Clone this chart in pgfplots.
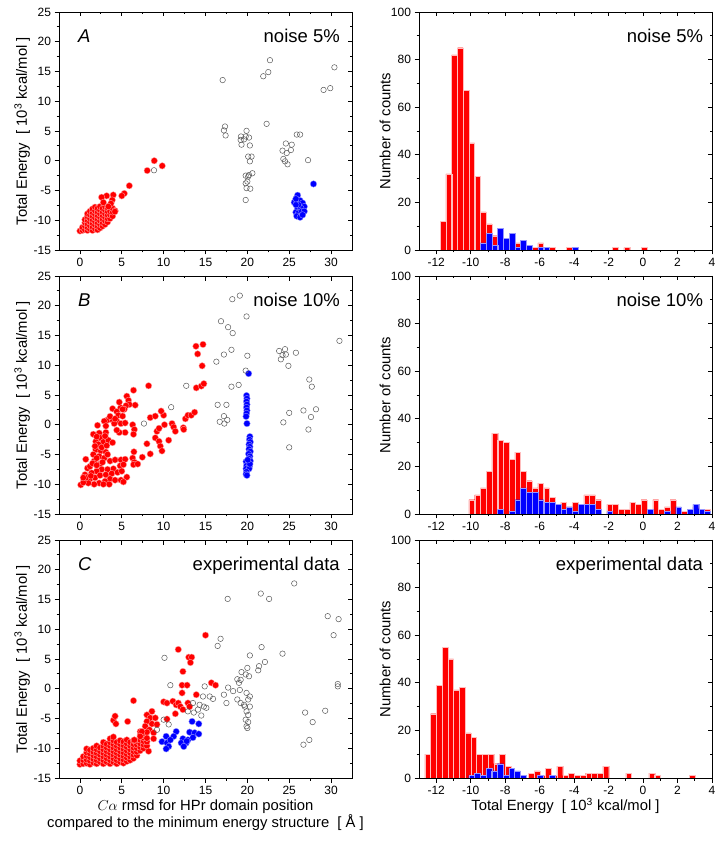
\documentclass[border=0pt]{standalone}
\usepackage{pgfplots}
\pgfplotsset{compat=1.18}
\usepackage{fontspec}
\setmainfont{Liberation Sans}
\definecolor{myred}{RGB}{255,0,0}
\definecolor{myblue}{RGB}{0,0,255}
\definecolor{rededge}{RGB}{255,165,165}
\definecolor{blueedge}{RGB}{150,150,255}
\definecolor{barredge}{RGB}{255,190,190}
\definecolor{opengray}{RGB}{90,90,90}
\pgfplotsset{
  base/.style={scale only axis, width=293pt, height=238pt,
    axis line style={line width=0.9pt},
    tick style={line width=0.8pt, black}, major tick length=4.5pt, minor tick length=2.5pt,
    /pgf/number format/assume math mode=true,
    tick label style={font=\fontsize{12}{14}\selectfont},
    label style={font=\fontsize{14.8}{16.7}\selectfont},
  },
  leftax/.style={base, xmin=-2.5, xmax=32.5, ymin=-15, ymax=25,
    xtick={0,5,...,30}, ytick={-15,-10,...,25}, minor x tick num=1, minor y tick num=1},
  rightax/.style={base, xmin=-13, xmax=4, ymin=0, ymax=100,
    xtick={-12,-10,...,4}, ytick={0,20,...,100}, minor x tick num=1, minor y tick num=1},
  mainax/.style={tick align=outside, xtick pos=bottom, ytick pos=left},
  overax/.style={tick align=inside, xtick pos=top, ytick pos=right, xticklabels={}, yticklabels={}},
  leftylab/.style={ylabel={Total Energy\ \ [ 10\textsuperscript{3} kcal/mol ]},
    ylabel style={at={(axis description cs:-0.126,0.5)}, anchor=center}},
  rightylab/.style={ylabel={Number of counts},
    ylabel style={at={(axis description cs:-0.116,0.5)}, anchor=center}},
  redpts/.style={only marks, mark=*, mark size=3.25pt, mark options={fill=myred, draw=rededge, line width=0.35pt}},
  bluepts/.style={only marks, mark=*, mark size=3.25pt, mark options={fill=myblue, draw=blueedge, line width=0.35pt}},
  openpts/.style={only marks, mark=o, mark size=2.75pt, mark options={draw=opengray, line width=0.5pt}},
  redbar/.style={ybar, bar width=0.333, bar shift=0pt, fill=myred, draw=barredge, line width=0.35pt},
  bluebar/.style={ybar, bar width=0.333, bar shift=0pt, fill=myblue, draw=blueedge, line width=0.35pt},
}
\newcommand{\ttl}[1]{\node[anchor=base east, inner sep=0pt, font=\fontsize{18.5}{20}\selectfont] at (rel axis cs:0.959,0.873) {#1};}
\newcommand{\ttr}[1]{\node[anchor=base east, inner sep=0pt, font=\fontsize{18.5}{20}\selectfont] at (rel axis cs:0.970,0.873) {#1};}
\newcommand{\plab}[1]{\node[anchor=base west, inner sep=0pt, font=\fontsize{18.5}{20}\selectfont\itshape] at (rel axis cs:0.065,0.873) {#1};}
\begin{document}
\begin{tikzpicture}
\useasboundingbox (0,0) rectangle (728pt,846pt);
%%%%%%%%%%%%%%%% Row 1 left
\begin{axis}[leftax, mainax, leftylab, at={(59pt,596pt)}, anchor=south west]
\addplot[redpts] coordinates {
(0.0,-11.8) (0.3,-11.7) (0.3,-11.2) (0.6,-11.6) (0.6,-11.0) (0.6,-10.4) (0.6,-9.9)
(0.9,-11.7) (0.9,-11.2) (0.9,-10.6) (0.9,-10.0) (0.9,-9.4) (0.9,-8.9)
(1.2,-11.5) (1.2,-10.9) (1.2,-10.3) (1.2,-9.7) (1.2,-9.1) (1.2,-8.5)
(1.5,-11.7) (1.5,-11.1) (1.5,-10.5) (1.5,-9.9) (1.5,-9.3) (1.5,-8.7) (1.5,-8.1)
(1.8,-11.4) (1.8,-10.8) (1.8,-10.2) (1.8,-9.6) (1.8,-9.0) (1.8,-8.4) (1.8,-7.8)
(2.1,-11.6) (2.1,-11.0) (2.1,-10.4) (2.1,-9.8) (2.1,-9.2) (2.1,-8.6) (2.1,-8.0)
(2.4,-11.3) (2.4,-10.7) (2.4,-10.1) (2.4,-9.5) (2.4,-8.9) (2.4,-8.3) (2.4,-7.7)
(2.7,-11.0) (2.7,-10.4) (2.7,-9.8) (2.7,-9.2) (2.7,-8.6) (2.7,-8.0)
(3.0,-10.7) (3.0,-10.1) (3.0,-9.5) (3.0,-8.9) (3.0,-8.3) (3.0,-7.7)
(3.3,-10.3) (3.3,-9.7) (3.3,-9.1) (3.3,-8.5) (3.3,-7.9)
(3.6,-9.7) (3.6,-9.1) (3.6,-8.5) (3.9,-9.3) (3.9,-8.6) (3.9,-8.0) (4.2,-8.4)
(8.88,0.0) (8.04,-1.65) (9.83,-0.86) (5.9,-4.2) (5.3,-5.5) (5.0,-5.9) (3.98,-5.75)
(3.19,-5.9) (2.59,-6.14) (3.86,-6.6) (2.8,-7.0) (3.7,-7.2) (4.18,-8.55) (3.4,-7.7)
};
\addplot[bluepts] coordinates {
(27.9,-3.9) (26.0,-5.8) (25.6,-7.0) (26.3,-6.7) (26.6,-7.1) (26.8,-7.7) (26.0,-8.0)
(26.4,-8.0) (25.8,-8.65) (26.1,-8.8) (26.5,-8.5) (26.8,-8.5) (25.9,-9.3) (26.3,-9.5)
(26.1,-7.4) (25.8,-7.4) (26.6,-9.1) (25.8,-6.4)
};
\addplot[openpts] coordinates {
(17.05,13.56) (17.33,5.76) (17.2,5.1) (17.4,4.25) (19.24,4.08) (19.2,3.5) (19.3,2.7)
(19.6,3.6) (19.9,5.03) (19.8,4.08) (20.2,3.9) (20.3,2.57) (20.1,0.7) (20.5,0.7)
(20.3,-0.1) (20.2,-2.4) (20.6,-2.1) (19.8,-2.5) (20.0,-3.5) (19.8,-3.8) (19.9,-4.6)
(20.35,-4.7) (20.1,-2.65) (19.8,-6.6) (21.9,14.2) (22.5,14.9) (22.7,16.9) (22.3,6.2)
(24.2,1.7) (24.6,2.9) (25.3,2.7) (25.2,1.8) (24.7,1.3) (24.3,0.3) (24.5,-0.1)
(24.8,-0.6) (25.9,4.4) (26.3,4.4) (27.25,0.1) (29.1,11.9) (29.9,12.2) (30.4,15.7)
(8.85,-1.6)
};
\ttl{noise 5\%}
\plab{A}
\end{axis}
\begin{axis}[leftax, overax, at={(59pt,596pt)}, anchor=south west]
\end{axis}
%%%%%%%%%%%%%%%% Row 1 right
\begin{axis}[rightax, mainax, rightylab, at={(419pt,596pt)}, anchor=south west]
\addplot[redbar] coordinates {
(-11.60,12) (-11.27,32) (-10.94,82) (-10.60,85) (-10.27,67) (-9.94,45) (-9.60,31)
(-9.27,16) (-8.94,11) (-8.60,6) (-7.27,3) (-6.27,1) (-5.94,3) (-5.60,1) (-5.27,1)
(-4.27,1) (-1.60,1) (-0.94,1) (0.06,1)
};
\addplot[bluebar] coordinates {
(-9.27,3) (-8.94,7) (-8.60,2) (-8.27,9) (-7.94,5) (-7.60,7) (-7.27,1) (-6.94,4)
(-6.60,2) (-5.94,1) (-5.60,1) (-3.94,1)
};
\ttr{noise 5\%}
\end{axis}
\begin{axis}[rightax, overax, at={(419pt,596pt)}, anchor=south west]
\end{axis}
%%%%%%%%%%%%%%%% Row 2 left
\begin{axis}[leftax, mainax, leftylab, at={(59pt,332pt)}, anchor=south west]
\addplot[redpts] coordinates {
(13.86,13.2) (14.06,11.9) (14.7,13.5) (14.6,9.9) (13.9,6.2) (14.5,6.5) (14.8,6.9)
(8.2,6.55) (6.4,5.8) (5.6,4.8) (5.8,4.1) (5.9,3.4) (6.6,3.3) (5.5,3.2) (4.86,2.85)
(5.3,2.6) (3.9,2.7) (4.4,2.2) (4.6,1.6) (5.1,1.45) (3.3,0.8) (3.9,0.8) (4.4,0.6)
(4.1,0.2) (4.9,0.2) (5.4,0.3) (2.9,0.6) (2.1,-0.1) (3.1,-0.2) (6.3,0.0) (6.5,-0.8)
(6.4,-1.6) (5.4,-1.3) (4.7,-1.3) (2.3,-1.4) (1.6,-1.6) (2.4,-2.2) (3.1,-1.3)
(1.9,-2.8) (2.8,-2.9) (3.4,-2.6) (3.9,-3.0) (2.2,-3.3) (1.9,-4.2) (2.5,-4.4)
(3.1,-4.6) (1.6,-5.0) (2.3,-5.3) (2.9,-5.6) (0.7,-5.8) (1.7,-6.1) (2.4,-6.6)
(3.6,-6.1) (4.2,-5.9) (4.9,-5.9) (5.4,-5.8) (4.8,-6.9) (5.2,-6.7) (4.0,-7.4)
(3.3,-7.5) (2.6,-7.5) (2.0,-7.8) (1.4,-8.1) (0.9,-7.3) (0.6,-8.4) (1.2,-9.1)
(1.8,-8.9) (2.4,-8.5) (3.1,-8.4) (3.8,-8.2) (4.5,-8.0) (5.0,-7.8) (5.6,-8.8)
(3.6,-9.1) (4.2,-9.3) (4.9,-9.3) (5.2,-9.6) (3.0,-9.5) (2.3,-9.8) (1.7,-10.0)
(1.0,-9.8) (0.1,-10.1) (2.8,-10.0) (3.5,-10.0) (0.4,-9.7) (0.7,-8.9) (4.7,3.8)
(5.1,2.6) (1.2,-7.0) (1.5,-6.5) (2.0,-6.8) (2.7,-6.3) (1.8,-3.6) (2.6,-3.8)
(2.0,-5.6) (3.3,-5.0) (1.3,-8.6) (0.4,-8.9) (3.2,-3.5) (3.0,-1.9) (2.0,-2.0)
(4.4,-0.9) (3.6,1.4) (4.2,1.0)
(6.45,-4.55) (6.3,-5.6) (6.5,-6.3) (6.4,-6.7) (6.9,-6.6) (7.45,-5.45) (8.0,-3.2)
(8.4,-4.9) (8.4,1.2) (9.0,1.45) (9.0,-2.2) (9.45,-2.8) (9.6,-3.6) (9.8,-4.4)
(9.2,-1.1) (9.45,-0.6) (10.0,1.6) (10.1,0.0) (10.6,-2.6) (11.0,0.2) (11.2,-0.4)
(11.4,-1.1) (12.35,-0.5) (12.4,-0.8) (12.6,1.0) (12.9,1.6) (13.3,1.6) (13.7,2.1)
(9.7,2.3)
};
\addplot[bluepts] coordinates {
(20.15,8.6) (19.9,4.9) (19.95,4.4) (19.9,3.9) (19.95,3.4) (19.9,2.9) (19.95,2.4)
(19.9,1.9) (19.85,1.4) (19.95,0.2) (20.3,-2.0) (20.25,-2.5) (20.35,-2.9) (20.2,-3.3)
(20.3,-3.7) (20.2,-4.1) (20.35,-4.5) (20.15,-4.9) (20.3,-5.3) (20.2,-5.7) (20.35,-6.1)
(19.85,-6.2) (20.1,-6.5) (19.9,-6.9) (20.25,-7.0) (19.85,-7.4) (20.2,-7.4) (19.9,-7.9)
(19.85,-8.3) (19.95,-8.5) (20.3,-6.6) (20.05,-5.9)
};
\addplot[openpts] coordinates {
(18.2,21.1) (19.1,21.7) (19.9,18.2) (16.85,17.4) (17.7,16.4) (18.25,15.4) (17.2,11.8)
(18.1,12.6) (16.3,10.6) (20.0,11.6) (19.8,9.1) (18.1,6.4) (18.96,6.7) (12.7,6.55)
(10.9,2.95) (7.65,0.2) (16.45,3.35) (17.5,3.35) (17.2,1.45) (16.7,0.5) (17.25,0.2)
(17.6,0.8) (23.8,12.4) (24.5,12.7) (24.2,11.7) (24.0,11.0) (24.6,11.8) (25.8,12.1)
(24.9,9.9) (31.0,14.1) (27.4,7.6) (27.7,6.4) (26.7,2.4) (28.2,2.6) (27.6,1.3)
(25.0,2.0) (24.3,0.4) (27.3,-0.8) (25.0,-3.8)
};
\ttl{noise 10\%}
\plab{B}
\end{axis}
\begin{axis}[leftax, overax, at={(59pt,332pt)}, anchor=south west]
\end{axis}
%%%%%%%%%%%%%%%% Row 2 right
\begin{axis}[rightax, mainax, rightylab, at={(419pt,332pt)}, anchor=south west]
\addplot[redbar] coordinates {
(-9.94,6) (-9.60,8) (-9.27,11) (-8.94,18) (-8.60,34) (-8.27,31) (-7.94,30) (-7.60,23)
(-7.27,26) (-6.94,18) (-6.60,14) (-6.27,11) (-5.94,13) (-5.60,11) (-5.27,7) (-4.94,4)
(-4.60,5) (-4.27,3) (-3.94,5) (-3.60,4) (-3.27,8) (-2.94,8) (-2.60,6) (-1.94,4)
(-1.60,4) (-1.27,2) (-0.94,2) (-0.60,5) (-0.27,4) (0.06,6) (0.40,1) (0.73,6)
(1.06,2) (1.40,3) (1.73,6) (2.06,2) (2.40,1) (2.73,2) (3.06,3) (3.40,2) (3.73,2)
};
\addplot[bluebar] coordinates {
(-8.27,2) (-7.60,1) (-7.27,6) (-6.94,11) (-6.60,9) (-6.27,9) (-5.94,6) (-5.60,5)
(-5.27,5) (-4.94,4) (-4.60,2) (-4.27,3) (-3.94,1) (-3.60,4) (-3.27,4) (-2.94,4)
(-2.60,2) (-1.94,1) (0.40,2) (1.40,1) (2.06,3) (2.73,2) (3.06,4) (3.40,2) (3.73,1)
};
\ttr{noise 10\%}
\end{axis}
\begin{axis}[rightax, overax, at={(419pt,332pt)}, anchor=south west]
\end{axis}
%%%%%%%%%%%%%%%% Row 3 left
\begin{axis}[leftax, mainax, leftylab, at={(59pt,68pt)}, anchor=south west,
  xlabel={$C\alpha$ rmsd for HPr domain position\\compared to the minimum energy structure\ \ [ Å ]},
  xlabel style={at={(axis description cs:0.5,-0.091)}, anchor=north, align=center, inner sep=0pt}]
\addplot[redpts] coordinates {
(0.0,-12.7) (0.0,-12.1) (0.4,-12.6) (0.4,-12.0) (0.4,-11.4)
(0.8,-12.5) (0.8,-11.9) (0.8,-11.3) (0.8,-10.7) (0.8,-10.1)
(1.2,-12.7) (1.2,-12.1) (1.2,-11.5) (1.2,-10.9) (1.2,-10.3)
(1.6,-12.4) (1.6,-11.8) (1.6,-11.2) (1.6,-10.6) (1.6,-10.0)
(2.0,-12.6) (2.0,-12.0) (2.0,-11.4) (2.0,-10.8) (2.0,-10.2) (2.0,-9.6)
(2.4,-12.3) (2.4,-11.7) (2.4,-11.1) (2.4,-10.5) (2.4,-9.9)
(2.8,-12.6) (2.8,-12.0) (2.8,-11.4) (2.8,-10.8) (2.8,-10.2) (2.8,-9.6) (2.8,-9.0)
(3.2,-12.3) (3.2,-11.7) (3.2,-11.1) (3.2,-10.5) (3.2,-9.9) (3.2,-9.3)
(3.6,-12.6) (3.6,-12.0) (3.6,-11.4) (3.6,-10.8) (3.6,-10.2) (3.6,-9.6) (3.6,-9.0) (3.6,-8.4)
(4.0,-12.3) (4.0,-11.7) (4.0,-11.1) (4.0,-10.5) (4.0,-9.9) (4.0,-9.3) (4.0,-8.7) (4.0,-8.1)
(4.4,-12.6) (4.4,-12.0) (4.4,-11.4) (4.4,-10.8) (4.4,-10.2) (4.4,-9.6) (4.4,-9.0)
(4.8,-12.3) (4.8,-11.7) (4.8,-11.1) (4.8,-10.5) (4.8,-9.9) (4.8,-9.3) (4.8,-8.7)
(5.2,-12.5) (5.2,-11.9) (5.2,-11.3) (5.2,-10.7) (5.2,-10.1) (5.2,-9.5) (5.2,-8.9)
(5.6,-12.2) (5.6,-11.6) (5.6,-11.0) (5.6,-10.4) (5.6,-9.8) (5.6,-9.2) (5.6,-8.6)
(6.0,-12.0) (6.0,-11.4) (6.0,-10.8) (6.0,-10.2) (6.0,-9.6) (6.0,-9.0)
(6.4,-11.7) (6.4,-11.1) (6.4,-10.5) (6.4,-9.9) (6.4,-9.3) (6.4,-8.7)
(6.8,-11.2) (6.8,-10.6) (6.8,-10.0) (6.8,-9.4) (6.8,-8.8)
(7.2,-10.4) (7.2,-9.8) (7.2,-9.2) (7.2,-8.6) (7.2,-7.8) (7.2,-7.2)
(7.6,-10.0) (7.6,-9.4) (7.6,-8.8) (7.6,-8.2) (7.6,-7.5)
(8.0,-9.6) (8.0,-8.9) (8.0,-8.3)
(15.0,9.0) (11.75,6.6) (13.0,5.3) (13.35,5.3) (13.2,4.4) (12.3,2.9) (12.2,0.6)
(12.8,0.6) (12.2,-0.7) (13.9,-1.0) (15.7,1.0) (16.2,0.6) (6.4,-2.0) (4.0,-5.3)
(4.2,-4.6) (4.3,-5.9) (5.7,-5.5) (10.0,-2.2) (10.4,-2.4) (11.1,-2.1) (11.5,-2.7)
(11.75,-2.4) (12.0,-3.0) (12.3,-3.5) (12.9,-2.4) (13.1,-3.0) (11.4,-4.2) (10.4,-5.1)
(8.6,-3.8) (8.0,-4.4) (8.4,-4.9) (9.0,-4.9) (8.0,-5.5) (8.6,-5.9) (9.2,-6.0)
(7.8,-6.3) (8.3,-6.9) (8.8,-7.4) (8.0,-7.3) (7.4,-7.2) (7.2,-8.0) (8.0,-8.3)
(8.8,-8.4) (8.2,-10.5) (6.5,-8.6)
};
\addplot[bluepts] coordinates {
(13.4,-5.5) (14.2,-5.9) (11.5,-7.2) (11.2,-8.0) (10.3,-8.0) (9.8,-8.9) (10.4,-9.1)
(10.8,-8.6) (10.6,-9.7) (10.3,-10.1) (12.3,-8.4) (12.1,-9.1) (12.7,-9.1) (12.4,-9.7)
(12.9,-8.6) (13.1,-7.3) (13.7,-7.4) (13.5,-8.2) (14.2,-7.6) (12.75,-8.8)
};
\addplot[openpts] coordinates {
(25.6,17.7) (21.6,16.0) (22.6,15.1) (17.65,15.1) (29.6,12.2) (30.9,11.7) (30.3,9.0)
(16.8,8.4) (16.45,7.2) (21.7,7.0) (24.2,5.9) (20.3,5.6) (10.1,5.2) (22.1,4.5)
(21.4,3.8) (21.3,3.1) (20.0,3.5) (19.3,2.8) (19.8,2.4) (20.2,2.1) (18.8,1.6)
(19.2,1.5) (19.0,1.0) (10.8,0.6) (17.7,0.2) (30.8,0.8) (30.8,0.4) (14.9,0.4)
(18.3,-0.4) (19.1,-0.2) (19.9,-0.7) (20.3,-1.3) (15.5,-1.3) (14.7,-1.3) (15.9,-1.7)
(17.2,-1.0) (17.5,-2.4) (14.3,-2.7) (14.8,-3.0) (15.1,-3.2) (13.5,-2.4) (12.9,-3.8)
(14.1,-3.5) (14.5,-4.5) (18.8,-1.8) (19.2,-2.4) (19.6,-2.7) (20.1,-1.8) (19.9,-3.8)
(20.1,-4.4) (19.8,-5.2) (20.1,-5.6) (19.9,-6.3) (20.0,-6.6) (19.7,-3.0) (20.3,-3.0)
(10.0,-5.2) (10.6,-6.0) (9.2,-6.9) (26.9,-4.0) (27.8,-5.6) (29.3,-3.7) (26.7,-9.4)
(27.4,-8.6) (13.6,-4.0)
};
\ttl{experimental data}
\plab{C}
\end{axis}
\begin{axis}[leftax, overax, at={(59pt,68pt)}, anchor=south west]
\end{axis}
%%%%%%%%%%%%%%%% Row 3 right
\begin{axis}[rightax, mainax, rightylab, at={(419pt,68pt)}, anchor=south west,
  xlabel={Total Energy\ \ [ 10\textsuperscript{3} kcal/mol ]},
  xlabel style={at={(axis description cs:0.5,-0.136)}, anchor=base}]
\addplot[redbar] coordinates {
(-12.49,10) (-12.16,27) (-11.83,39) (-11.49,55) (-11.16,50) (-10.83,37) (-10.49,38)
(-10.16,19) (-9.83,17) (-9.49,10) (-9.16,10) (-8.83,10) (-8.49,6) (-8.16,10)
(-7.83,5) (-7.49,2) (-7.16,1) (-6.49,2) (-6.16,3) (-5.83,1) (-5.49,4) (-5.16,1)
(-4.83,5) (-4.49,1) (-4.16,2) (-3.83,1) (-3.49,1) (-3.16,2) (-2.83,2) (-2.49,2)
(-2.16,5) (-0.83,2) (0.51,2) (0.84,1) (2.84,1)
};
\addplot[bluebar] coordinates {
(-9.95,1) (-9.62,2) (-9.29,1) (-8.95,4) (-8.62,3) (-8.29,6) (-7.95,1) (-7.62,4)
(-7.29,3) (-6.95,1) (-5.95,1) (-5.29,1)
};
\ttr{experimental data}
\end{axis}
\begin{axis}[rightax, overax, at={(419pt,68pt)}, anchor=south west]
\end{axis}
\end{tikzpicture}
\end{document}
